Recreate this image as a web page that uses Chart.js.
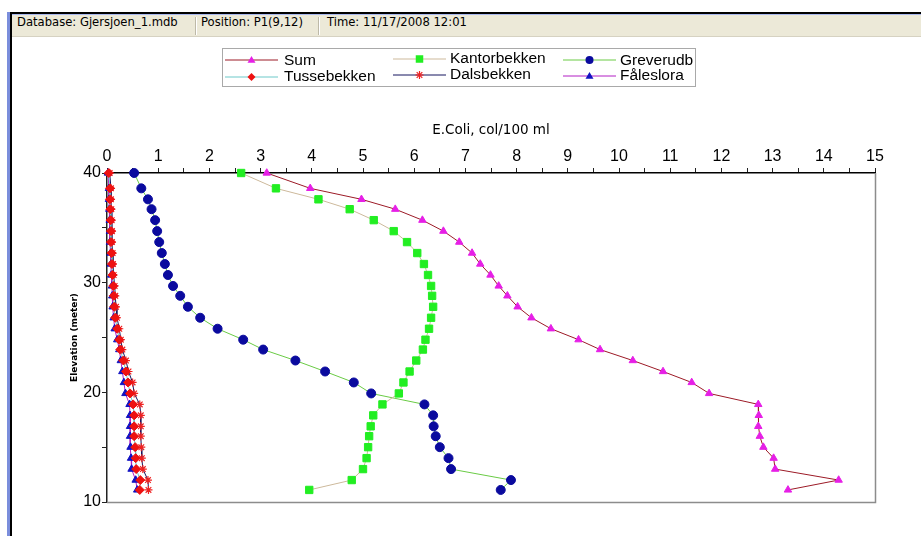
<!DOCTYPE html>
<html>
<head>
<meta charset="utf-8">
<script src="https://cdn.jsdelivr.net/npm/chart.js@4/dist/chart.umd.min.js"></script>
<style>
  html, body { margin: 0; padding: 0; background: #fff; width: 921px; height: 536px; overflow: hidden; }
  #wrap { position: relative; width: 921px; height: 536px; }
  #plot { position: absolute; left: 0; top: 0; }
  .blk { position: absolute; }
  #status { position: absolute; left: 12px; top: 15px; width: 909px; height: 21px; background: #ece9d8; border-bottom: 1px solid #d6d2c2; }
  #status span { position: absolute; top: 0; line-height: 22px; font: 11.6px "DejaVu Sans", sans-serif; color: #000; white-space: nowrap; }
  #status .sep { position: absolute; top: 2px; width: 1px; height: 18px; background: #bdb9a8; border-right: 1px solid #fff; }
  #legend { position: absolute; left: 222px; top: 48px; width: 474px; height: 39px; border: 1px solid #a9a9a9; box-sizing: border-box; }
  .lg-text { position: absolute; font: 15.5px "Liberation Sans", Arial, sans-serif; color: #000; white-space: nowrap; line-height: 18px; }
  .lg-key { position: absolute; }
</style>
</head>
<body>
<div id="wrap">
  <canvas id="plot" width="921" height="536"></canvas>
  <!-- window frame -->
  <div class="blk" style="left:7px;top:12px;width:914px;height:2px;background:#000;"></div>
  <div class="blk" style="left:12px;top:14px;width:909px;height:1px;background:#a9b8ee;"></div>
  <div class="blk" style="left:7px;top:12px;width:3px;height:524px;background:#7b8edc;"></div>
  <div class="blk" style="left:10px;top:12px;width:2px;height:524px;background:#000;"></div>
  <div id="status">
    <span style="left:5px;">Database: Gjersjoen_1.mdb</span>
    <div class="sep" style="left:183px;"></div>
    <span style="left:189px;">Position: P1(9,12)</span>
    <div class="sep" style="left:306px;"></div>
    <span style="left:315px;">Time: 11/17/2008 12:01</span>
  </div>
  <div id="legend"></div>
</div>
<script>
// Depth levels of the model layers (m), top to bottom
const elevations = [40, 38.6, 37.6, 36.7, 35.7, 34.7, 33.7, 32.7, 31.7, 30.7,
                    29.7, 28.8, 27.8, 26.8, 25.8, 24.8, 23.9, 22.9, 21.9, 20.9,
                    19.9, 18.9, 17.9, 16.9, 16.0, 15.0, 14.0, 13.0, 12.0, 11.1];

// E.Coli concentration (col/100 ml) per source at each level
const sumValues = [3.12, 3.97, 4.97, 5.63, 6.16, 6.57, 6.88, 7.13, 7.29, 7.49,
                   7.65, 7.82, 8.02, 8.29, 8.67, 9.21, 9.63, 10.27, 10.86, 11.42,
                   11.76, 12.72, 12.73, 12.72, 12.75, 12.82, 13.02, 13.05, 14.29, 13.30];
const tussebekkenValues = [0.035, 0.058, 0.058, 0.065, 0.071, 0.078, 0.078, 0.09, 0.097, 0.107,
                           0.123, 0.133, 0.14, 0.16, 0.20, 0.24, 0.26, 0.32, 0.37, 0.41,
                           0.45, 0.51, 0.53, 0.53, 0.53, 0.55, 0.56, 0.57, 0.65, 0.64];
const kantorbekkenValues = [2.62, 3.30, 4.13, 4.74, 5.21, 5.60, 5.86, 6.06, 6.19, 6.27,
                            6.33, 6.35, 6.37, 6.33, 6.29, 6.22, 6.17, 6.04, 5.91, 5.79,
                            5.70, 5.38, 5.20, 5.15, 5.12, 5.10, 5.07, 5.00, 4.78, 3.95];
const dalsbekkenValues = [0.052, 0.078, 0.078, 0.084, 0.091, 0.097, 0.097, 0.11, 0.117, 0.13,
                          0.149, 0.162, 0.176, 0.195, 0.24, 0.27, 0.30, 0.37, 0.42, 0.50,
                          0.53, 0.64, 0.66, 0.66, 0.66, 0.67, 0.68, 0.70, 0.80, 0.81];
const greverudbValues = [0.53, 0.67, 0.80, 0.87, 0.94, 0.98, 1.02, 1.07, 1.13, 1.19,
                         1.29, 1.43, 1.58, 1.82, 2.16, 2.66, 3.05, 3.68, 4.26, 4.82,
                         5.16, 6.20, 6.37, 6.38, 6.42, 6.50, 6.67, 6.72, 7.89, 7.69];
const faleslorValues = [0.019, 0.038, 0.038, 0.045, 0.052, 0.058, 0.058, 0.071, 0.077, 0.084,
                        0.097, 0.103, 0.11, 0.13, 0.15, 0.20, 0.24, 0.27, 0.30, 0.33,
                        0.36, 0.44, 0.45, 0.45, 0.45, 0.46, 0.47, 0.48, 0.56, 0.59];

const seriesNames = ['Sum', 'Tussebekken', 'Kantorbekken', 'Dalsbekken', 'Greverudb', 'Fåleslora'];
const xTickLabels = [0, 1, 2, 3, 4, 5, 6, 7, 8, 9, 10, 11, 12, 13, 14, 15];
const yTickLabels = [10, 20, 30, 40];

const styles = {
  'Sum':          { line: '#9c1a26', fill: '#e61fe6', shape: 'triangle', r: 4.3 },
  'Tussebekken':  { line: '#6cc9c9', fill: '#ee1111', shape: 'rectRot',  r: 4.5 },
  'Kantorbekken': { line: '#cdb99b', fill: '#22ee22', shape: 'rect',     r: 5.2 },
  'Dalsbekken':   { line: '#15155e', fill: '#ee2222', shape: 'star',     r: 4.0 },
  'Greverudb':    { line: '#6acb45', fill: '#0a0a9e', shape: 'circle',   r: 4.5 },
  'Fåleslora':    { line: '#b21fc4', fill: '#1212c2', shape: 'triangle', r: 4.3 }
};
const valuesByName = {
  'Sum': sumValues, 'Tussebekken': tussebekkenValues, 'Kantorbekken': kantorbekkenValues,
  'Dalsbekken': dalsbekkenValues, 'Greverudb': greverudbValues, 'Fåleslora': faleslorValues
};

function toPoints(values) {
  return values.map((v, i) => ({ x: v, y: elevations[i] }));
}

const datasets = seriesNames.map(name => {
  const s = styles[name];
  return {
    label: name,
    data: toPoints(valuesByName[name]),
    showLine: true,
    borderColor: s.line,
    borderWidth: 1,
    pointStyle: s.shape,
    pointRadius: s.r,
    pointBackgroundColor: s.fill,
    pointBorderColor: s.fill,
    pointBorderWidth: s.shape === 'star' ? 1.2 : 1,
    clip: false
  };
});

// gray right/bottom edges of the plot box
const boxEdges = {
  id: 'boxEdges',
  afterDraw(chart) {
    const { ctx, chartArea: a } = chart;
    ctx.save();
    ctx.strokeStyle = '#8c8c8c';
    ctx.lineWidth = 1.5;
    ctx.beginPath();
    ctx.moveTo(a.left, Math.round(a.bottom) + 0.5);
    ctx.lineTo(Math.round(a.right) + 0.5, Math.round(a.bottom) + 0.5);
    ctx.lineTo(Math.round(a.right) + 0.5, a.top);
    ctx.stroke();
    ctx.restore();
  }
};

const tickFont = { family: '"Liberation Sans", Arial, sans-serif', size: 16 };

new Chart(document.getElementById('plot'), {
  type: 'scatter',
  data: { datasets },
  options: {
    responsive: false,
    animation: false,
    devicePixelRatio: 1,
    layout: { padding: { left: 0, right: 46, top: 115, bottom: 34 } },
    plugins: { legend: { display: false }, tooltip: { enabled: false } },
    scales: {
      x: {
        type: 'linear', position: 'top', min: 0, max: 15,
        ticks: {
          stepSize: 0.5, autoSkip: false, maxRotation: 0, padding: 2, color: '#000', font: tickFont,
          callback: v => xTickLabels.includes(v) ? String(v) : ''
        },
        grid: { drawOnChartArea: false, tickLength: 5, tickColor: '#222' },
        border: { color: '#000', width: 1.5 },
        title: {
          display: true, text: 'E.Coli, col/100 ml', color: '#000',
          font: { family: '"DejaVu Sans", sans-serif', size: 13.5 },
          padding: { top: 7, bottom: 0 }
        },
        afterFit: s => { s.height = 58; }
      },
      y: {
        type: 'linear', position: 'left', min: 10, max: 40,
        ticks: {
          stepSize: 5, autoSkip: false, padding: 1, color: '#000', font: tickFont,
          callback: v => yTickLabels.includes(v) ? String(v) : ''
        },
        grid: { drawOnChartArea: false, tickLength: 5, tickColor: '#222' },
        border: { color: '#222', width: 1.5 },
        title: {
          display: true, text: 'Elevation (meter)', color: '#000',
          font: { family: '"DejaVu Sans", sans-serif', size: 9, weight: 'bold' },
          padding: { top: 69, bottom: 0 }
        },
        afterFit: s => { s.width = 107; }
      }
    }
  },
  plugins: [boxEdges]
});

// Legend: three columns, two rows
const legendSlots = [
  { name: 'Sum',          lineX: 225, lineY: 59.5, textX: 284, textY: 60 },
  { name: 'Tussebekken',  lineX: 225, lineY: 76.5, textX: 284, textY: 76 },
  { name: 'Kantorbekken', lineX: 393, lineY: 58.5, textX: 450, textY: 57.5 },
  { name: 'Dalsbekken',   lineX: 393, lineY: 74.5, textX: 450, textY: 73.5 },
  { name: 'Greverudb',    lineX: 563, lineY: 59.5, textX: 620, textY: 60 },
  { name: 'Fåleslora',    lineX: 563, lineY: 75.5, textX: 620, textY: 75 }
];

function markerSvg(shape, fill, cx, cy, r) {
  if (shape === 'circle') return `<circle cx="${cx}" cy="${cy}" r="${r}" fill="${fill}"/>`;
  if (shape === 'rect') { const h = r * 0.75; return `<rect x="${cx - h}" y="${cy - h}" width="${2 * h}" height="${2 * h}" fill="${fill}"/>`; }
  if (shape === 'rectRot') return `<polygon points="${cx},${cy - r} ${cx + r},${cy} ${cx},${cy + r} ${cx - r},${cy}" fill="${fill}"/>`;
  if (shape === 'triangle') return `<polygon points="${cx},${cy - r} ${cx + r},${cy + r * 0.7} ${cx - r},${cy + r * 0.7}" fill="${fill}"/>`;
  if (shape === 'star') {
    const d = r * 0.7;
    return `<g stroke="${fill}" stroke-width="1.2"><line x1="${cx}" y1="${cy - r}" x2="${cx}" y2="${cy + r}"/>` +
      `<line x1="${cx - d}" y1="${cy - d}" x2="${cx + d}" y2="${cy + d}"/><line x1="${cx - d}" y1="${cy + d}" x2="${cx + d}" y2="${cy - d}"/>` +
      `<line x1="${cx - r}" y1="${cy}" x2="${cx + r}" y2="${cy}"/></g>`;
  }
  return '';
}

const wrap = document.getElementById('wrap');
legendSlots.forEach(slot => {
  const s = styles[slot.name];
  const key = document.createElement('div');
  key.className = 'lg-key';
  key.style.left = slot.lineX + 'px';
  key.style.top = (slot.lineY - 8) + 'px';
  key.innerHTML = `<svg width="54" height="16" xmlns="http://www.w3.org/2000/svg">` +
    `<line x1="0" y1="8" x2="53" y2="8" stroke="${s.line}" stroke-width="1"/>` +
    markerSvg(s.shape, s.fill, 26.5, 8, s.shape === 'rect' ? 5 : 4) + `</svg>`;
  wrap.appendChild(key);
  const txt = document.createElement('div');
  txt.className = 'lg-text';
  txt.style.left = slot.textX + 'px';
  txt.style.top = (slot.textY - 9) + 'px';
  txt.textContent = slot.name;
  wrap.appendChild(txt);
});
</script>
</body>
</html>
